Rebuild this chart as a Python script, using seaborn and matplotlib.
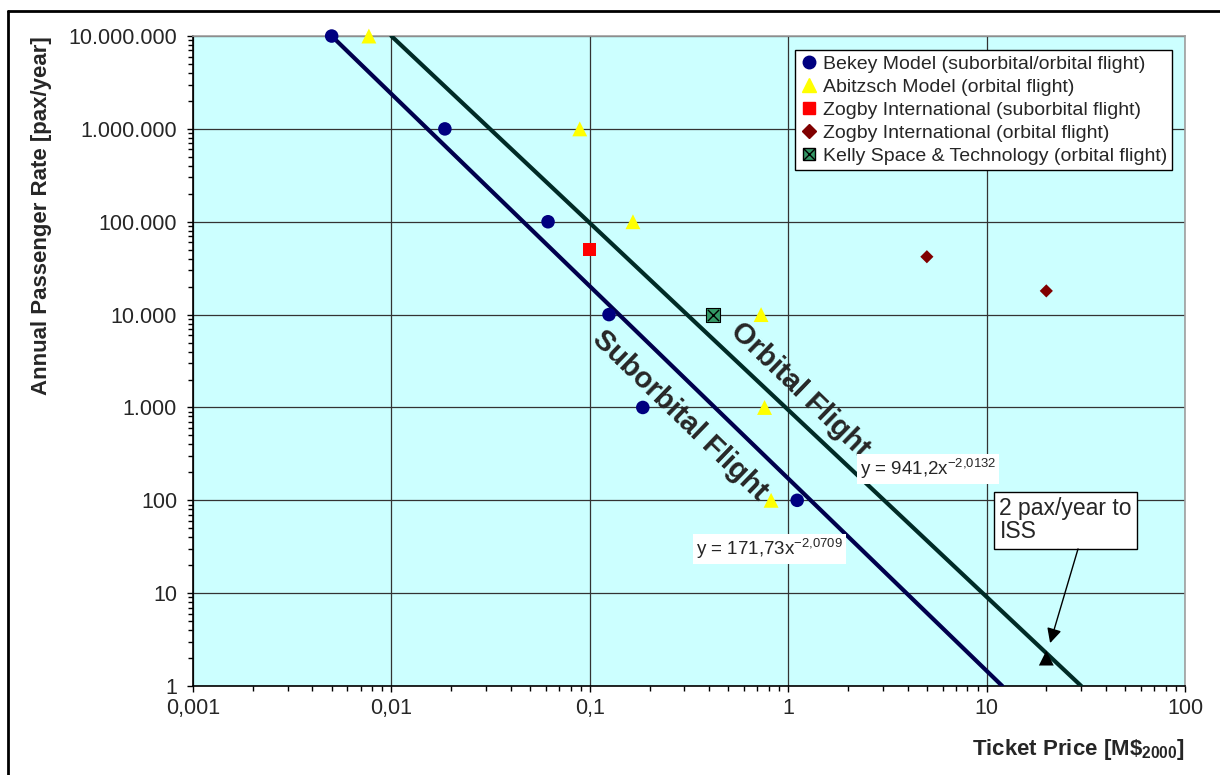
import matplotlib
matplotlib.use("Agg")
import matplotlib.pyplot as plt
import seaborn as sns
import numpy as np
from matplotlib.lines import Line2D
from matplotlib.legend_handler import HandlerTuple
from matplotlib.ticker import FixedLocator, FixedFormatter, LogLocator, NullFormatter

# ---------------- data ----------------
bekey_price = [0.005, 0.0186, 0.0616, 0.125, 0.185, 1.11]
bekey_pax = [1e7, 1e6, 1e5, 1e4, 1e3, 1e2]

abitzsch_price = [0.0077, 0.089, 0.165, 0.73, 0.76, 0.82]
abitzsch_pax = [1e7, 1e6, 1e5, 1e4, 1e3, 1e2]

zogby_sub_price = [0.1]
zogby_sub_pax = [50000]

zogby_orb_price = [5.0, 20.0]
zogby_orb_pax = [42000, 18000]

kelly_price = [0.42]
kelly_pax = [10000]

iss_price = [20.0]
iss_pax = [2]

# trend line end points
sub_line_x = [0.005, 12.0]
sub_line_y = [1e7, 1]
orb_line_x = [0.01, 30.0]
orb_line_y = [1e7, 1]

xtick_vals = [0.001, 0.01, 0.1, 1, 10, 100]
xtick_labels = ["0,001", "0,01", "0,1", "1", "10", "100"]
ytick_vals = [1, 10, 100, 1e3, 1e4, 1e5, 1e6, 1e7]
ytick_labels = ["1", "10", "100", "1.000", "10.000", "100.000", "1.000.000", "10.000.000"]

legend_labels = ["Bekey Model (suborbital/orbital flight)",
                 "Abitzsch Model (orbital flight)",
                 "Zogby International (suborbital flight)",
                 "Zogby International (orbital flight)",
                 "Kelly Space & Technology (orbital flight)"]

# ---------------- style ----------------
sns.set_style("white")
plt.rcParams["font.family"] = ["Liberation Sans", "DejaVu Sans"]
plt.rcParams["mathtext.fontset"] = "custom"
plt.rcParams["mathtext.rm"] = "Liberation Sans"
plt.rcParams["mathtext.bf"] = "Liberation Sans:bold"

navy = "#000080"
fig = plt.figure(figsize=(12.2, 7.75), dpi=100)
ax = fig.add_axes([0.1582, 0.1148, 0.9713 - 0.1582, 0.9535 - 0.1148])
ax.set_facecolor("#ccffff")
ax.set_xscale("log")
ax.set_yscale("log")
ax.set_xlim(0.001, 100)
ax.set_ylim(1, 1e7)

# grid
ax.grid(True, which="major", color="#333333", lw=0.9)
ax.set_axisbelow(True)

# trend lines
sns.lineplot(x=sub_line_x, y=sub_line_y, ax=ax, color="#00004d", lw=3,
             estimator=None, sort=False, zorder=3)
sns.lineplot(x=orb_line_x, y=orb_line_y, ax=ax, color="#002b26", lw=3,
             estimator=None, sort=False, zorder=3)

# scatter series
sns.scatterplot(x=bekey_price, y=bekey_pax, ax=ax, color=navy, marker="o",
                s=95, edgecolor="none", zorder=5, clip_on=False, legend=False)
sns.scatterplot(x=abitzsch_price, y=abitzsch_pax, ax=ax, color="#ffff00", marker="^",
                s=115, edgecolor="none", zorder=5, clip_on=False, legend=False)
sns.scatterplot(x=zogby_sub_price, y=zogby_sub_pax, ax=ax, color="#ff0000", marker="s",
                s=85, edgecolor="none", zorder=5, legend=False)
sns.scatterplot(x=zogby_orb_price, y=zogby_orb_pax, ax=ax, color="#800000", marker="D",
                s=45, edgecolor="none", zorder=5, legend=False)
sns.scatterplot(x=kelly_price, y=kelly_pax, ax=ax, color="#339966", marker="s",
                s=90, edgecolor="black", linewidth=0.8, zorder=5, legend=False)
ax.scatter(kelly_price, kelly_pax, color="black", marker="x", s=65, lw=1, zorder=6)
sns.scatterplot(x=iss_price, y=iss_pax, ax=ax, color="black", marker="^",
                s=115, edgecolor="none", zorder=5, legend=False)

# ticks
ax.xaxis.set_major_locator(FixedLocator(xtick_vals))
ax.xaxis.set_major_formatter(FixedFormatter(xtick_labels))
ax.yaxis.set_major_locator(FixedLocator(ytick_vals))
ax.yaxis.set_major_formatter(FixedFormatter(ytick_labels))
ax.xaxis.set_minor_locator(LogLocator(base=10, subs=np.arange(2, 10), numticks=20))
ax.yaxis.set_minor_locator(LogLocator(base=10, subs=np.arange(2, 10), numticks=20))
ax.xaxis.set_minor_formatter(NullFormatter())
ax.yaxis.set_minor_formatter(NullFormatter())
ax.tick_params(which="major", direction="out", length=4.5, width=1, color="black",
               labelsize=15.5, bottom=True, left=True)
ax.tick_params(which="minor", direction="out", length=3.5, width=1, color="black",
               bottom=True, left=True)
ax.tick_params(axis="x", which="major", pad=4)
ax.tick_params(axis="y", which="major", pad=7)

for side in ["left", "bottom"]:
    ax.spines[side].set_color("black")
    ax.spines[side].set_linewidth(1.2)
for side in ["top", "right"]:
    ax.spines[side].set_color("#a0a0a0")
    ax.spines[side].set_linewidth(1.2)

ax.set_ylabel("Annual Passenger Rate [pax/year]", fontsize=16, fontweight="bold",
              loc="top", labelpad=12)
ax.set_xlabel(r"Ticket Price [M\$$_{\mathbf{2000}}$]", fontsize=16, fontweight="bold",
              loc="right", labelpad=13)

# rotated labels
ax.text(1.146, 1540, "Orbital Flight", fontsize=21, fontweight="heavy", rotation=-44,
        ha="center", va="center", rotation_mode="anchor", zorder=4)
ax.text(0.285, 828, "Suborbital Flight", fontsize=21, fontweight="heavy", rotation=-44,
        ha="center", va="center", rotation_mode="anchor", zorder=4)

# equations
ax.text(2.3, 217, r"y = 941,2x$^{-2{,}0132}$", fontsize=13.5, ha="left", va="center",
        bbox=dict(facecolor="white", edgecolor="none", pad=2), zorder=6)
ax.text(0.343, 30, r"y = 171,73x$^{-2{,}0709}$", fontsize=13.5, ha="left", va="center",
        bbox=dict(facecolor="white", edgecolor="none", pad=2), zorder=6)

# ISS note
ax.text(11.6, 61, "2 pax/year to\nISS", fontsize=16.5, ha="left", va="center",
        linespacing=1.0,
        bbox=dict(facecolor="white", edgecolor="black", pad=4, lw=1), zorder=6)
ax.annotate("", xy=(20.9, 2.9), xytext=(28.9, 30),
            arrowprops=dict(arrowstyle="-|>", color="black", lw=1, mutation_scale=22,
                            shrinkA=0, shrinkB=0), zorder=6)

# legend
handles = [
    Line2D([], [], ls="none", marker="o", color=navy, markersize=9),
    Line2D([], [], ls="none", marker="^", color="#ffff00", markersize=10),
    Line2D([], [], ls="none", marker="s", color="#ff0000", markersize=9),
    Line2D([], [], ls="none", marker="D", color="#800000", markersize=7),
    (Line2D([], [], ls="none", marker="s", markerfacecolor="#339966",
            markeredgecolor="black", markersize=9),
     Line2D([], [], ls="none", marker="x", color="black", markersize=8)),
]
leg = ax.legend(handles, legend_labels, loc="upper left", bbox_to_anchor=(0.607, 0.978),
                borderaxespad=0, fontsize=14, frameon=True, fancybox=False,
                handlelength=0.9, handletextpad=0.3, borderpad=0.25, labelspacing=0.28,
                handler_map={tuple: HandlerTuple(ndivide=1, pad=0)})
leg.get_frame().set_edgecolor("black")
leg.get_frame().set_linewidth(1)
leg.get_frame().set_alpha(1)

# outer frame of the figure
fig.add_artist(Line2D([8 / 1220, 1.0], [1 - 11 / 775, 1 - 11 / 775], color="black", lw=2,
                      transform=fig.transFigure))
fig.add_artist(Line2D([8 / 1220, 8 / 1220], [0, 1 - 11 / 775], color="black", lw=2,
                      transform=fig.transFigure))

fig.savefig("out.png", dpi=100)
